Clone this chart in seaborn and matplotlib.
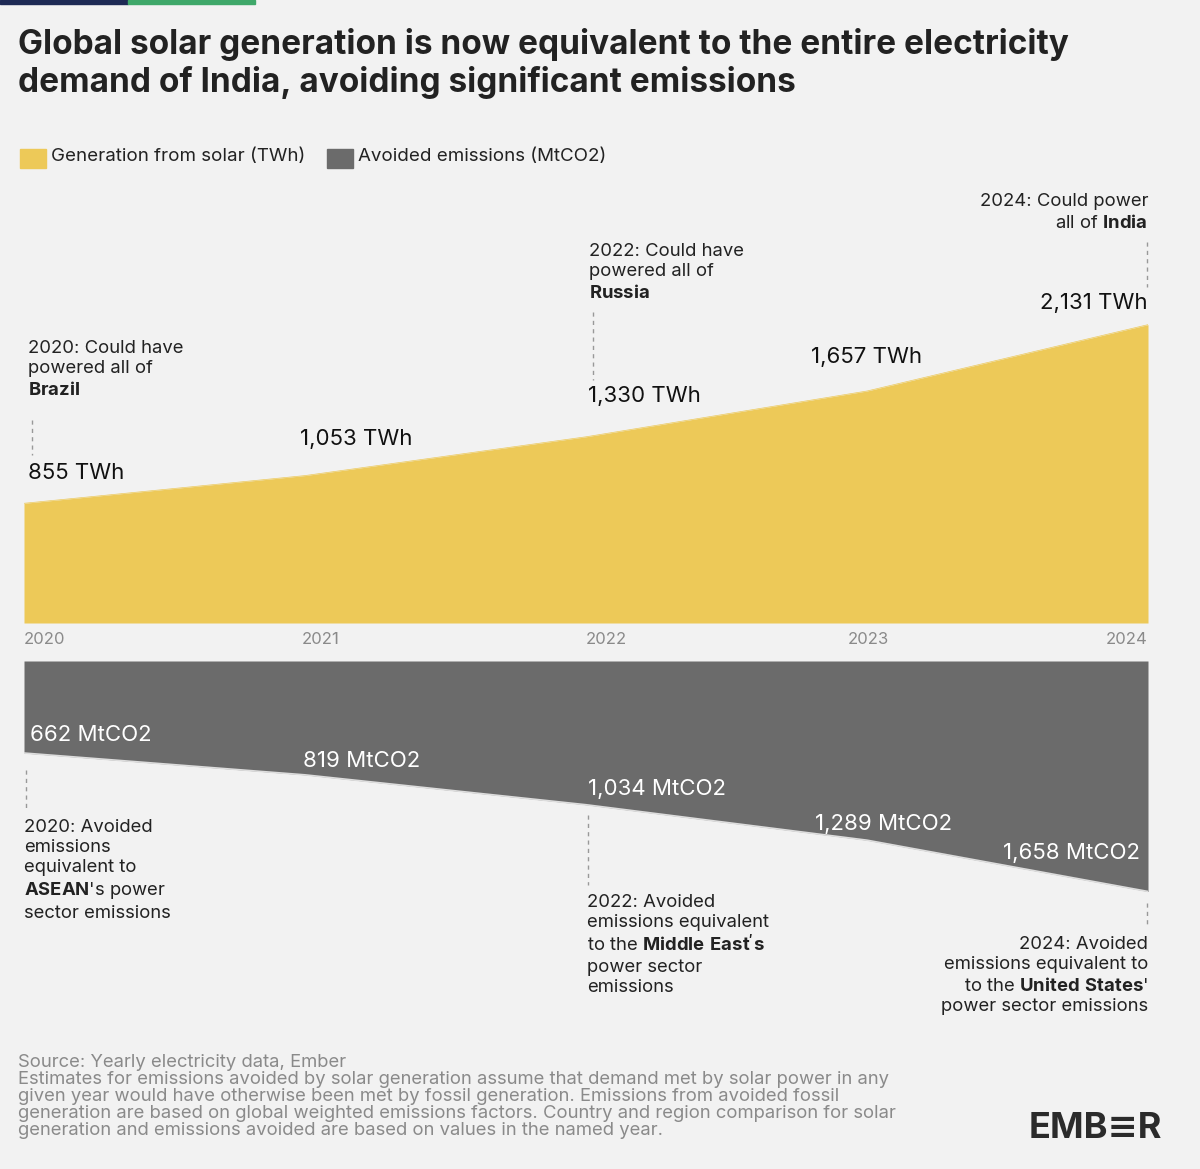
import matplotlib
matplotlib.use("Agg")
import matplotlib.pyplot as plt
import seaborn as sns
import pandas as pd
from matplotlib.patches import Rectangle

years = [2020, 2021, 2022, 2023, 2024]
solar_twh = [855, 1053, 1330, 1657, 2131]
avoided_mt = [662, 819, 1034, 1289, 1658]
solar_labels = ["855 TWh", "1,053 TWh", "1,330 TWh", "1,657 TWh", "2,131 TWh"]
avoided_labels = ["662 MtCO2", "819 MtCO2", "1,034 MtCO2", "1,289 MtCO2", "1,658 MtCO2"]

sns.set_theme(style="white")
plt.rcParams['font.family'] = ['Inter', 'DejaVu Sans']
plt.rcParams['mathtext.fontset'] = 'custom'
plt.rcParams['mathtext.rm'] = 'Inter'
plt.rcParams['mathtext.bf'] = 'Inter:bold'

BG = "#f2f2f2"; YEL = "#EDC958"; GREY = "#6b6b6b"; TXT = "#222222"; SUB = "#8a8a8a"
W, H = 1200, 1169
fig = plt.figure(figsize=(12, 11.69), dpi=100, facecolor=BG)

def fx(x): return x / W
def fy(y): return 1 - y / H
def txt(x, y, s, **kw):
    kw.setdefault("color", TXT); kw.setdefault("fontsize", 13.3); kw.setdefault("va", "top")
    fig.text(fx(x), fy(y), s, **kw)
def dash(x, y0, y1, color="#999999"):
    fig.add_artist(plt.Line2D([fx(x), fx(x)], [fy(y0), fy(y1)], ls=(0, (3, 3)), lw=1, color=color))

# top bar
fig.add_artist(Rectangle((0, fy(4)), fx(128), 4 / H, color="#1e2a55", transform=fig.transFigure))
fig.add_artist(Rectangle((fx(128), fy(4)), fx(127), 4 / H, color="#3fa86a", transform=fig.transFigure))

txt(18, 28, "Global solar generation is now equivalent to the entire electricity\ndemand of India, avoiding significant emissions",
    fontsize=24, fontweight="bold", linespacing=1.2)

# legend
fig.add_artist(Rectangle((fx(20), fy(168)), fx(26), 19 / H, color=YEL, transform=fig.transFigure))
txt(51, 148, "Generation from solar (TWh)", fontsize=13.5)
fig.add_artist(Rectangle((fx(327), fy(168)), fx(26), 19 / H, color=GREY, transform=fig.transFigure))
txt(358, 148, "Avoided emissions (MtCO2)", fontsize=13.5)

df = pd.DataFrame({"year": years, "solar": solar_twh, "avoided": avoided_mt})

# top axes
ax1 = fig.add_axes([fx(24), fy(623), fx(1148 - 24), (623 - 180) / H])
ax1.fill_between(df["year"], 0, df["solar"], color=YEL, lw=0)
sns.lineplot(data=df, x="year", y="solar", ax=ax1, color=YEL, lw=0.5)
ax1.set_xlim(2020, 2024); ax1.set_ylim(0, (623 - 180) / 0.14)
ax1.axis("off")

# bottom axes
ax2 = fig.add_axes([fx(24), fy(1040), fx(1148 - 24), (1040 - 661) / H])
ax2.fill_between(df["year"], 0, df["avoided"], color=GREY, lw=0)
sns.lineplot(data=df, x="year", y="avoided", ax=ax2, color="#dddddd", lw=1.2)
ax2.set_xlim(2020, 2024); ax2.set_ylim((1040 - 661) / 0.139, 0)
ax2.axis("off")

# year labels
for yr, x, ha in zip(years, [24, 302, 586, 868, 1148], ["left", "left", "left", "center", "right"]):
    txt(x, 632, str(yr), fontsize=12, color=SUB, ha=ha)

# value labels
ha_list = ["left", "left", "left", "center", "right"]
offs = [(4, 20), (-5, 27), (2, 31), (0, 24), (0, 12)]
for yr, v, s, ha, o in zip(years, solar_twh, solar_labels, ha_list, offs):
    ax1.annotate(s, (yr, v), xytext=o, textcoords="offset pixels", ha=ha, va="bottom",
                 fontsize=16, color="#111111")
offs2 = [(6, 8), (-2, 4), (2, 6), (-52, 6), (-8, 28)]
ha2 = ["left", "left", "left", "left", "right"]
for yr, v, s, ha, o in zip(years, avoided_mt, avoided_labels, ha2, offs2):
    ax2.annotate(s, (yr, v), xytext=o, textcoords="offset pixels", ha=ha, va="bottom",
                 fontsize=16, color="white")

LS = 1.25
# annotations top
txt(28, 340, "2020: Could have\npowered all of\n$\\bf{Brazil}$", linespacing=LS)
dash(32, 420, 455)
txt(589, 243, "2022: Could have\npowered all of\n$\\bf{Russia}$", linespacing=LS)
dash(593, 312, 380)
txt(1148, 193, "2024: Could power\nall of $\\bf{India}$", ha="right", linespacing=LS, multialignment="right")
dash(1147, 242, 287)

# annotations bottom
txt(24, 819, "2020: Avoided\nemissions\nequivalent to\n$\\bf{ASEAN}$'s power\nsector emissions", linespacing=LS)
dash(26, 770, 810)
txt(587, 894, "2022: Avoided\nemissions equivalent\nto the $\\bf{Middle\\ East}$" + "$\\bf{'s}$" + "\npower sector\nemissions", linespacing=LS)
dash(588, 815, 885)
txt(1148, 936, "2024: Avoided\nemissions equivalent to\nto the $\\bf{United\\ States}$'\npower sector emissions",
    ha="right", multialignment="right", linespacing=LS)
dash(1147, 903, 928)

# footer
txt(18, 1054, "Source: Yearly electricity data, Ember\nEstimates for emissions avoided by solar generation assume that demand met by solar power in any\n"
    "given year would have otherwise been met by fossil generation. Emissions from avoided fossil\n"
    "generation are based on global weighted emissions factors. Country and region comparison for solar\n"
    "generation and emissions avoided are based on values in the named year.",
    fontsize=13.3, color=SUB, linespacing=1.0)
txt(1162, 1112, "EMB\u2261R", fontsize=26, fontweight="bold", ha="right", color="#2b2b2b")

fig.savefig("out.png", dpi=100, facecolor=BG)
